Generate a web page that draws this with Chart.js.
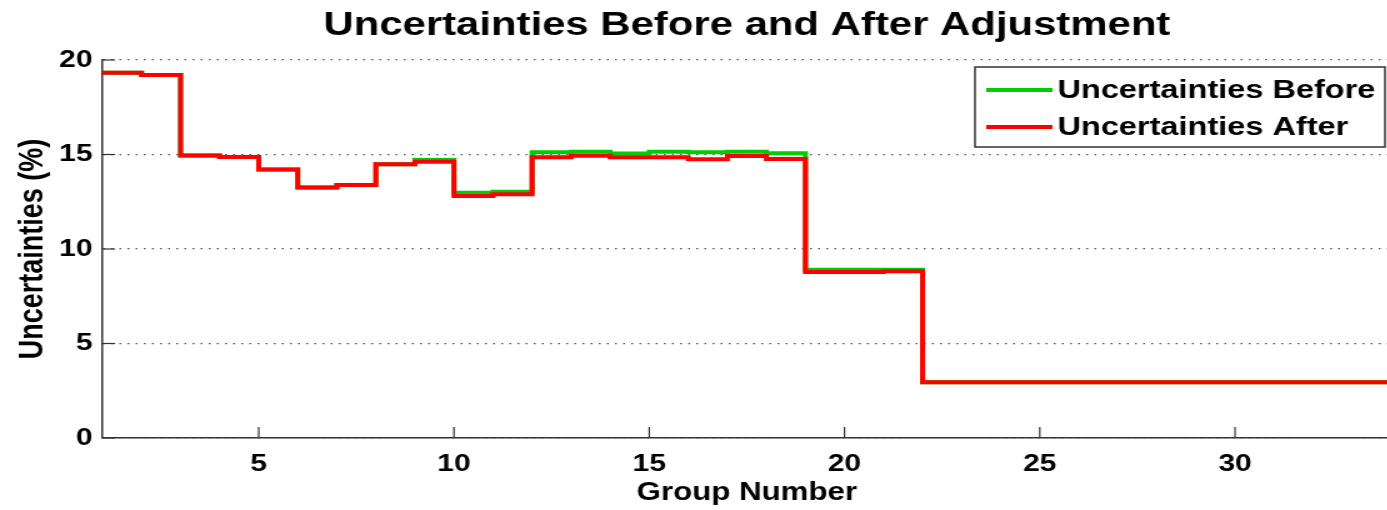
<!DOCTYPE html>
<html>
<head>
<meta charset="utf-8">
<script src="https://cdn.jsdelivr.net/npm/chart.js@4/dist/chart.umd.min.js"></script>
<style>
  html, body { margin: 0; padding: 0; background: #fff; overflow: hidden; }
  #wrap { width: 1114px; height: 510px; transform: scaleX(1.25); transform-origin: 0 0; }
</style>
</head>
<body>
<div id="wrap"><canvas id="myChart" width="1114" height="510"></canvas></div>
<script>
// values, one per group (stairs: value held from group to group+1)
const groups = [1,2,3,4,5,6,7,8,9,10,11,12,13,14,15,16,17,18,19,20,21,22,23,24,25,26,27,28,29,30,31,32,33,34];
const before = [19.33,19.2,14.95,14.87,14.2,13.26,13.38,14.48,14.71,12.97,13.03,15.12,15.15,15.05,15.15,15.12,15.15,15.06,8.9,8.9,8.9,
  2.95,2.95,2.95,2.95,2.95,2.95,2.95,2.95,2.95,2.95,2.95,2.95,2.95];
const after = [19.33,19.2,14.95,14.87,14.2,13.26,13.38,14.48,14.62,12.8,12.9,14.85,14.93,14.85,14.85,14.75,14.92,14.76,8.78,8.78,8.82,
  2.95,2.95,2.95,2.95,2.95,2.95,2.95,2.95,2.95,2.95,2.95,2.95,2.95];
const xTicks = [5,10,15,20,25,30];
const yTicks = [0,5,10,15,20];
const titleText = 'Uncertainties Before and After Adjustment';

const FONT = '"Liberation Sans", Arial, sans-serif';

// matlab style ticks pointing into the plot
const innerTicks = {
  id: 'innerTicks',
  beforeDatasetsDraw(chart) {
    const {ctx, chartArea, scales} = chart;
    ctx.save();
    ctx.strokeStyle = '#333';
    ctx.lineWidth = 1.2;
    xTicks.forEach(v => {
      const x = scales.x.getPixelForValue(v);
      ctx.beginPath();
      ctx.moveTo(x, chartArea.bottom);
      ctx.lineTo(x, chartArea.bottom - 11);
      ctx.stroke();
    });
    yTicks.forEach(v => {
      const y = scales.y.getPixelForValue(v);
      ctx.beginPath();
      ctx.moveTo(chartArea.left, y);
      ctx.lineTo(chartArea.left + 10, y);
      ctx.stroke();
    });
    ctx.restore();
  }
};

// title centred over the axes, legend box inside the upper right corner
const boxLegend = {
  id: 'boxLegend',
  afterDraw(chart) {
    const {ctx, chartArea} = chart;
    ctx.save();
    ctx.fillStyle = '#000';
    ctx.font = 'bold 33.5px ' + FONT;
    ctx.textAlign = 'center';
    ctx.textBaseline = 'middle';
    ctx.fillText(titleText, (chartArea.left + chartArea.right) / 2, 26);

    const right = chartArea.right - 5, left = 780, top = 67, bottom = 147;
    ctx.fillStyle = '#fff';
    ctx.fillRect(left, top, right - left, bottom - top);
    ctx.strokeStyle = '#333';
    ctx.lineWidth = 1.5;
    ctx.strokeRect(left, top, right - left, bottom - top);
    ctx.font = 'bold 26px ' + FONT;
    ctx.textAlign = 'left';
    ctx.fillStyle = '#000';
    chart.data.datasets.forEach((ds, i) => {
      const y = i === 0 ? 90 : 127;
      ctx.strokeStyle = ds.borderColor;
      ctx.lineWidth = 4;
      ctx.beginPath();
      ctx.moveTo(789, y);
      ctx.lineTo(842, y);
      ctx.stroke();
      ctx.fillText(ds.label, 846, y + 1);
    });
    ctx.restore();
  }
};

const ctx = document.getElementById('myChart');
const myChart = new Chart(ctx, {
  type: 'line',
  data: {
    labels: groups,
    datasets: [{
      label: 'Uncertainties Before',
      data: groups.map((g, i) => ({x: g, y: before[i]})),
      borderColor: '#00cc00',
      borderWidth: 4,
      stepped: true,
      pointRadius: 0,
      fill: false,
      order: 1
    }, {
      label: 'Uncertainties After',
      data: groups.map((g, i) => ({x: g, y: after[i]})),
      borderColor: '#ff0000',
      borderWidth: 4,
      stepped: true,
      pointRadius: 0,
      fill: false,
      order: 0
    }]
  },
  options: {
    responsive: false,
    animation: false,
    layout: { padding: { left: 0, right: 1, top: 60, bottom: 0 } },
    plugins: {
      legend: { display: false },
      tooltip: { enabled: false },
      title: { display: false }
    },
    scales: {
      x: {
        type: 'linear',
        min: 1,
        max: 34,
        afterBuildTicks: s => { s.ticks = xTicks.map(v => ({value: v})); },
        afterFit: s => { s.height = 72; },
        grid: { display: false, drawTicks: false },
        border: { display: true, color: '#333', width: 1.5 },
        ticks: { color: '#000', padding: 12, font: { family: FONT, size: 24, weight: 'bold' } },
        title: {
          display: true,
          text: 'Group Number',
          color: '#000',
          font: { family: FONT, size: 25, weight: 'bold' },
          padding: { top: 0, bottom: 2 }
        }
      },
      y: {
        min: 0,
        max: 20,
        afterBuildTicks: s => { s.ticks = yTicks.map(v => ({value: v})); },
        afterFit: s => { s.width = 82; },
        grid: {
          drawTicks: false,
          color: '#555',
          lineWidth: 1.2
        },
        border: { display: true, color: '#333', width: 1.5, dash: [1.5, 5] },
        ticks: { color: '#000', padding: 8, font: { family: FONT, size: 24, weight: 'bold' } },
        title: {
          display: true,
          text: 'Uncertainties (%)',
          color: '#000',
          font: { family: FONT, size: 27, weight: 'bold' },
          padding: { top: 10, bottom: 0 }
        }
      }
    }
  },
  plugins: [innerTicks, boxLegend]
});
</script>
</body>
</html>
